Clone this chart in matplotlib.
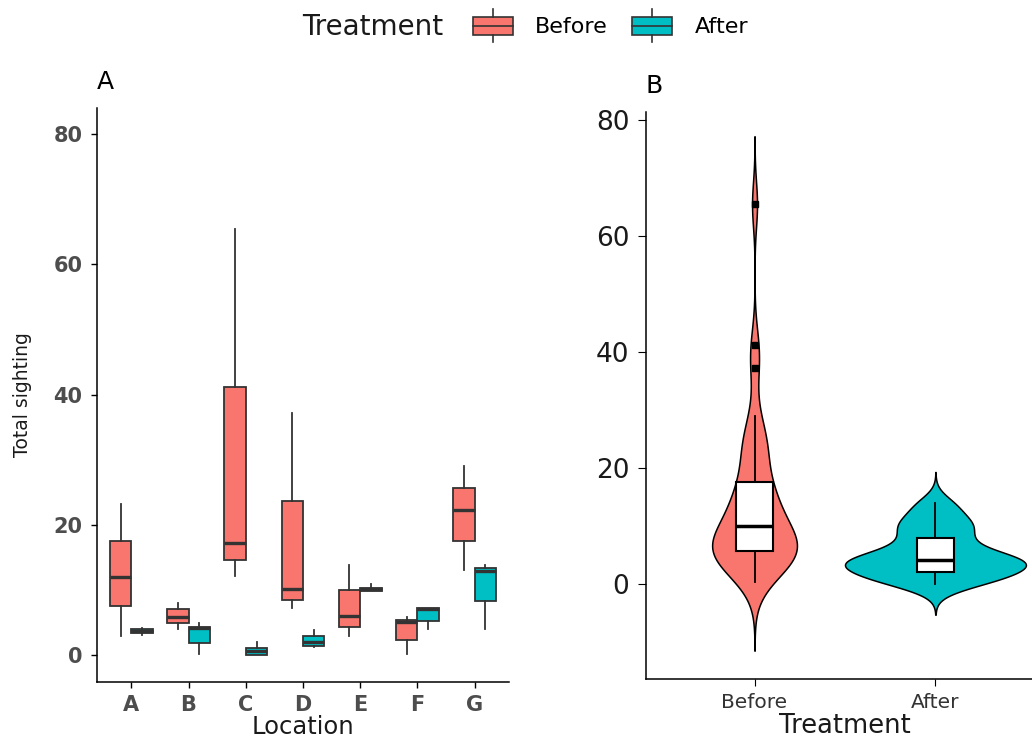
import matplotlib
matplotlib.use('AGG')

import numpy as np
import matplotlib.pyplot as plt
from matplotlib.patches import Patch, Rectangle
from matplotlib.lines import Line2D
from matplotlib.legend_handler import HandlerBase

# Sightings per location (five counts each)
locations = ['A', 'B', 'C', 'D', 'E', 'F', 'G']
before = [
    [3.0, 7.5, 12.0, 17.5, 23.2],
    [4.0, 4.9, 5.9, 7.1, 8.1],
    [12.1, 14.6, 17.2, 41.2, 65.4],
    [7.3, 8.5, 10.1, 23.7, 37.2],
    [3.0, 4.3, 6.0, 10.0, 13.9],
    [0.2, 2.4, 5.1, 5.4, 5.8],
    [13.1, 17.5, 22.3, 25.6, 29.0],
]
after = [
    [3.1, 3.4, 3.7, 4.1, 4.2],
    [0.2, 1.9, 4.15, 4.4, 4.9],
    [0.0, 0.0, 0.7, 1.1, 2.0],
    [1.2, 1.4, 2.1, 3.0, 3.9],
    [9.9, 9.9, 10.2, 10.4, 10.95],
    [4.0, 5.3, 7.05, 7.2, 7.2],
    [4.0, 8.4, 13.0, 13.4, 13.9],
]
treatments = ['Before', 'After']
colors = ['#F8766D', '#00BFC4']
edge = '#333333'

W, H = 1032, 740
fig = plt.figure(figsize=(W / 100, H / 100), dpi=100)

# ---- panel A: boxplots by location
ax1 = fig.add_axes([97 / W, 1 - 682 / H, 412 / W, 574 / H])
pos = np.arange(1, len(locations) + 1)
for k, (grp, col) in enumerate(zip([before, after], colors)):
    offs = -0.1875 if k == 0 else 0.1875
    ax1.boxplot(grp, positions=pos + offs, widths=0.375, patch_artist=True,
                showcaps=False, showfliers=False,
                boxprops=dict(facecolor=col, edgecolor=edge, linewidth=1.3),
                medianprops=dict(color=edge, linewidth=2.4),
                whiskerprops=dict(color=edge, linewidth=1.3))

ax1.set_xlim(0.4, 7.6)
ax1.set_ylim(-4.1, 84)
ax1.set_xticks(pos)
ax1.set_xticklabels(locations)
ax1.set_yticks([0, 20, 40, 60, 80])
for lab in ax1.get_xticklabels() + ax1.get_yticklabels():
    lab.set_fontweight('bold')
ax1.tick_params(labelsize=15, labelcolor='#4D4D4D', length=4.5, width=1, color='black')
ax1.tick_params(axis='y', pad=6)
ax1.tick_params(axis='x', pad=5)
ax1.set_xlabel('Location', fontsize=17.5, color='#1a1a1a', va='bottom')
ax1.xaxis.set_label_coords(0.5, (682 - 739) / 574)
ax1.set_ylabel('Total sighting', fontsize=13.5, color='#1a1a1a')
ax1.yaxis.set_label_coords(-0.158, 0.5)
ax1.set_title('A', loc='left', fontsize=18, pad=14)

# ---- panel B: violins with boxplots, all locations pooled
ax2 = fig.add_axes([646 / W, 1 - 679.3 / H, 398 / W, 567.6 / H])
pooled = [np.concatenate(before), np.concatenate(after)]


def nrd0(v):
    q75, q25 = np.percentile(v, [75, 25])
    return 0.9 * min(v.std(ddof=1), (q75 - q25) / 1.34) * len(v) ** -0.2


def kde(v, bw):
    grid = np.linspace(v.min() - 3 * bw, v.max() + 3 * bw, 512)
    z = (grid[:, None] - v[None, :]) / bw
    dens = np.exp(-0.5 * z ** 2).sum(axis=1) / (len(v) * bw * np.sqrt(2 * np.pi))
    return grid, dens


curves = [kde(v, nrd0(v)) for v in pooled]
dmax = max(d.max() for _, d in curves)
for i, ((grid, dens), col) in enumerate(zip(curves, colors)):
    half = 0.5 * dens / dmax
    ax2.fill_betweenx(grid, i + 1 - half, i + 1 + half, facecolor=col,
                      edgecolor='black', linewidth=1.1, zorder=1)

ax2.boxplot(pooled, positions=[1, 2], widths=0.2, patch_artist=True,
            showcaps=False, zorder=3,
            boxprops=dict(facecolor='white', edgecolor='black', linewidth=1.5),
            medianprops=dict(color='black', linewidth=2.5),
            whiskerprops=dict(color='black', linewidth=1.3),
            flierprops=dict(marker='s', markerfacecolor='black',
                            markeredgecolor='black', markersize=5))

ax2.set_xlim(0.4, 2.6)
ax2.set_ylim(-16.5, 81.4)
ax2.set_xticks([1, 2])
ax2.set_xticklabels(treatments)
ax2.set_yticks([0, 20, 40, 60, 80])
ax2.tick_params(axis='y', labelsize=19, labelcolor='#1a1a1a', length=6, pad=6)
ax2.tick_params(axis='x', labelsize=14.5, labelcolor='#333333', length=5, pad=5)
ax2.set_xlabel('Treatment', fontsize=18.5, color='#1a1a1a', va='bottom')
ax2.xaxis.set_label_coords(0.5, (679.3 - 739) / 567.6)
ax2.set_title('B', loc='left', fontsize=18, pad=13.5)

for ax in (ax1, ax2):
    for s in ('top', 'right'):
        ax.spines[s].set_visible(False)
    for s in ('left', 'bottom'):
        ax.spines[s].set_color('black')
        ax.spines[s].set_linewidth(1.1)


# ---- legend at the top
class BoxKey(HandlerBase):
    def create_artists(self, legend, orig_handle, xdescent, ydescent,
                       width, height, fontsize, trans):
        x0, y0 = -xdescent, -ydescent
        rect = Rectangle((x0, y0), width, height, facecolor=orig_handle.get_facecolor(),
                         edgecolor=edge, linewidth=1.2, transform=trans)
        xm = x0 + width / 2
        ym = y0 + height / 2
        med = Line2D([x0, x0 + width], [ym, ym], color=edge, lw=1.2, transform=trans)
        top = Line2D([xm, xm], [y0 + height, y0 + height * 1.4], color=edge, lw=1.2,
                     transform=trans)
        bot = Line2D([xm, xm], [y0, y0 - height * 0.4], color=edge, lw=1.2,
                     transform=trans)
        return [rect, med, top, bot]


handles = [Patch(facecolor=c) for c in colors]
fig.legend(handles, treatments, handler_map={Patch: BoxKey()},
           loc='center left', bbox_to_anchor=(473 / W, 1 - 27 / H), ncol=2,
           frameon=False, fontsize=16, borderpad=0, borderaxespad=0,
           handlelength=1.8, handleheight=0.9, handletextpad=1.0, columnspacing=1.1)
fig.text(302 / W, 1 - 27 / H, 'Treatment', fontsize=20, ha='left', va='center',
         color='#1a1a1a')

fig.savefig('out.png', dpi=100)
